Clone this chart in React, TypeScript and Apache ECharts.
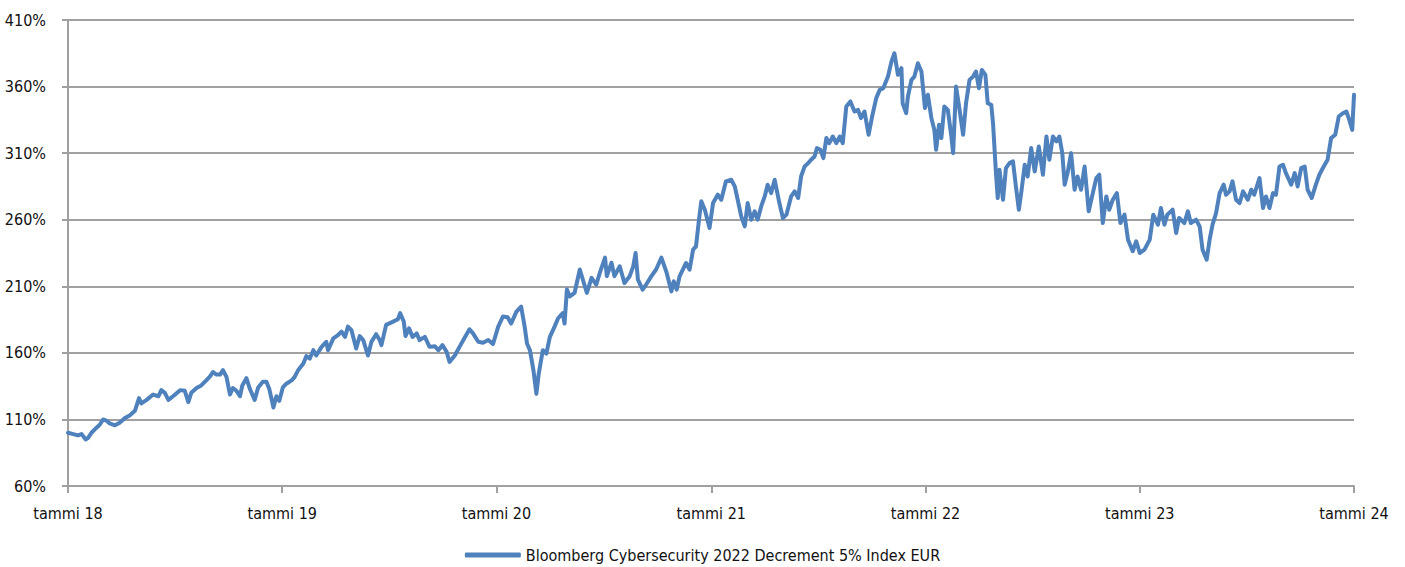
import React, { useEffect, useRef } from "react";
import * as echarts from "echarts";

const seriesName = "Bloomberg Cybersecurity 2022 Decrement 5% Index EUR";

const yearTicks = ["2018-01-01", "2019-01-01", "2020-01-01", "2021-01-01", "2022-01-01", "2023-01-01", "2024-01-01"];
const yearTickLabels = ["tammi 18", "tammi 19", "tammi 20", "tammi 21", "tammi 22", "tammi 23", "tammi 24"];

const yTicks = [60, 110, 160, 210, 260, 310, 360, 410];

const dates2018 = ["2018-01-01","2018-01-10","2018-01-18","2018-01-24","2018-01-31","2018-02-04","2018-02-10","2018-02-19","2018-02-24","2018-03-02","2018-03-08","2018-03-13","2018-03-22","2018-03-30","2018-04-08","2018-04-16","2018-04-25","2018-05-02","2018-05-06","2018-05-15","2018-05-26","2018-06-04","2018-06-09","2018-06-15","2018-06-21","2018-06-29","2018-07-11","2018-07-19","2018-07-25","2018-07-30","2018-08-08","2018-08-16","2018-08-25","2018-08-31","2018-09-05","2018-09-11","2018-09-17","2018-09-22","2018-09-28","2018-10-04","2018-10-09","2018-10-15","2018-10-21","2018-10-25","2018-11-01","2018-11-07","2018-11-15","2018-11-21","2018-11-29","2018-12-05","2018-12-10","2018-12-17","2018-12-22","2018-12-27"];
const values2018 = [100,99,98,99,95,96,100,104,106,110,109,107,105.6,107.5,111,113,116.5,126,122,124.7,128.7,127.4,132,130,124.7,127.4,132,131.5,123,130,133.6,135.5,139.6,142.3,145.6,143.7,143.7,147,142,128.7,133.6,131.5,127.4,135.5,141,132.8,124.7,134,138.3,138.3,132.8,119,127.4,124];

const dates2019 = ["2019-01-02","2019-01-08","2019-01-17","2019-01-22","2019-01-28","2019-02-06","2019-02-11","2019-02-17","2019-02-23","2019-02-28","2019-03-09","2019-03-17","2019-03-20","2019-03-29","2019-04-06","2019-04-12","2019-04-18","2019-04-23","2019-04-29","2019-05-07","2019-05-13","2019-05-19","2019-05-27","2019-06-02","2019-06-10","2019-06-16","2019-06-19","2019-06-27","2019-07-09","2019-07-17","2019-07-21","2019-07-27","2019-07-30","2019-08-05","2019-08-11","2019-08-18","2019-08-23","2019-09-01","2019-09-09","2019-09-18","2019-09-24","2019-10-01","2019-10-08","2019-10-13","2019-10-22","2019-10-30","2019-11-08","2019-11-16","2019-11-22","2019-12-01","2019-12-09","2019-12-18","2019-12-26"];
const values2019 = [134,136.8,139.3,141.8,146.9,152,157.5,155.7,162,158,164.5,168.3,162,170.9,173.4,176,172,179.7,177,163.3,172.6,169.6,158,168.3,174,169.6,165.8,181,183.5,185.2,189.8,183.5,172.6,178.4,172,174.6,169.6,172,164.5,165,162,165.8,160.8,153.2,158,164.5,171.6,177.7,174.6,168.3,167.6,169.6,166.6];

const dates2020 = ["2020-01-04","2020-01-12","2020-01-20","2020-01-26","2020-02-04","2020-02-12","2020-02-18","2020-02-22","2020-02-27","2020-03-04","2020-03-09","2020-03-13","2020-03-20","2020-03-26","2020-04-01","2020-04-09","2020-04-15","2020-04-23","2020-04-26","2020-04-30","2020-05-05","2020-05-13","2020-05-22","2020-05-28","2020-06-03","2020-06-11","2020-06-19","2020-06-25","2020-07-04","2020-07-07","2020-07-15","2020-07-20","2020-07-29","2020-08-06","2020-08-15","2020-08-21","2020-08-25","2020-08-29","2020-09-06","2020-09-12","2020-09-21","2020-09-29","2020-10-08","2020-10-17","2020-10-25","2020-10-29","2020-11-03","2020-11-08","2020-11-19","2020-11-25","2020-12-01","2020-12-06","2020-12-11","2020-12-15","2020-12-21","2020-12-29"];
const values2020 = [179.7,187.3,186.8,182,191,194.8,179.7,167,162,146.9,129.2,144.3,162,159.5,172,179.7,186,189.8,182,207.5,202.4,205,222.6,213.8,205,216.3,211.3,220,231.5,217.6,227.7,217.6,225,212.5,217.6,225,235,215,207.5,211.3,217.6,222.6,231.5,220,206.2,213.8,207.5,217.5,227.5,222.5,237.5,240,260,273.8,267.5,253.8];

const dates2021 = ["2021-01-04","2021-01-12","2021-01-18","2021-01-26","2021-02-04","2021-02-10","2021-02-15","2021-02-21","2021-02-27","2021-03-04","2021-03-10","2021-03-16","2021-03-21","2021-03-27","2021-04-02","2021-04-07","2021-04-13","2021-04-19","2021-04-27","2021-05-03","2021-05-09","2021-05-17","2021-05-23","2021-05-29","2021-06-03","2021-06-09","2021-06-15","2021-06-20","2021-06-26","2021-06-30","2021-07-06","2021-07-11","2021-07-16","2021-07-21","2021-07-27","2021-08-02","2021-08-08","2021-08-13","2021-08-19","2021-08-26","2021-09-02","2021-09-08","2021-09-13","2021-09-19","2021-09-26","2021-10-02","2021-10-09","2021-10-15","2021-10-21","2021-10-29","2021-11-04","2021-11-09","2021-11-15","2021-11-21","2021-11-23","2021-11-29","2021-12-02","2021-12-08","2021-12-13","2021-12-19","2021-12-25","2021-12-31"];
const values2021 = [272.5,278.8,275,288.8,290,285,275,262.5,255,272.5,260,266.3,260,270,277.5,286.3,280,290,272.5,261.3,263.8,277.5,281.3,276.3,292.5,300,302.5,305,307.5,313.8,312.5,306.3,321.3,317.5,322.5,317.5,322.5,317.5,345,348.8,341.3,342.5,336.3,341.3,323.8,337.5,351.3,357.5,358.8,367.5,378.8,385,368.8,373.8,347.5,340,352.5,365,367.5,377.5,371.3,343.8];

const dates2022 = ["2022-01-05","2022-01-11","2022-01-16","2022-01-19","2022-01-24","2022-01-28","2022-02-02","2022-02-08","2022-02-14","2022-02-17","2022-02-22","2022-02-28","2022-03-06","2022-03-11","2022-03-17","2022-03-23","2022-03-28","2022-04-02","2022-04-07","2022-04-13","2022-04-17","2022-04-23","2022-04-26","2022-05-01","2022-05-04","2022-05-07","2022-05-13","2022-05-18","2022-05-24","2022-05-30","2022-06-04","2022-06-09","2022-06-13","2022-06-19","2022-06-24","2022-06-30","2022-07-06","2022-07-13","2022-07-20","2022-07-26","2022-07-31","2022-08-06","2022-08-12","2022-08-17","2022-08-22","2022-08-26","2022-08-31","2022-09-06","2022-09-12","2022-09-17","2022-09-23","2022-09-29","2022-10-06","2022-10-13","2022-10-19","2022-10-24","2022-10-30","2022-11-05","2022-11-10","2022-11-16","2022-11-23","2022-11-29","2022-12-06","2022-12-12","2022-12-20","2022-12-26"];
const values2022 = [353.8,336.3,327.5,312.5,331.3,321.3,345,342.5,322.5,310,360,342.5,323.8,347.5,365,367.5,371.3,358.8,372.5,368.8,347.5,346.3,332.5,295,276.3,297.5,275,298.8,302.5,303.8,285,267.5,280,301.3,292.5,313.8,296.3,315,293.8,322.5,305,322.5,318.8,322.5,310,286.3,295,310,282.5,292.5,282.5,300,266.3,280,291.3,293.8,257.5,277.5,267.5,275,280,257.5,263.8,245,236.3,243.8];

const dates2023 = ["2023-01-01","2023-01-09","2023-01-18","2023-01-24","2023-02-01","2023-02-06","2023-02-12","2023-02-17","2023-02-26","2023-03-04","2023-03-09","2023-03-18","2023-03-24","2023-03-29","2023-04-07","2023-04-13","2023-04-18","2023-04-25","2023-04-30","2023-05-05","2023-05-11","2023-05-17","2023-05-24","2023-05-28","2023-06-03","2023-06-08","2023-06-14","2023-06-20","2023-06-26","2023-07-04","2023-07-10","2023-07-15","2023-07-24","2023-07-30","2023-08-04","2023-08-10","2023-08-16","2023-08-21","2023-08-27","2023-09-02","2023-09-07","2023-09-16","2023-09-22","2023-09-27","2023-10-03","2023-10-09","2023-10-14","2023-10-21","2023-10-28","2023-11-03","2023-11-09","2023-11-17","2023-11-23","2023-11-30","2023-12-06","2023-12-13","2023-12-19","2023-12-24","2023-12-29","2024-01-01"];
const values2023 = [235,237.5,245,263.8,256.3,268.8,256.3,263.8,267.5,250,261.3,257.5,266.3,257.5,260,255,237.5,230,245,256.3,265,280,286.3,278.8,281.3,288.8,275,272.5,281.3,275,282.5,278.8,291.3,268.8,277.5,268.8,280,278.8,300,301.3,295,286.3,295,285,298.8,300,282.5,276.3,286.3,293.8,298.8,305,321.3,323.8,337.5,340,341.3,335,327.5,353.8];

const FONT = "'Liberation Sans Narrow', 'DejaVu Sans Condensed', 'Roboto', sans-serif";
const GRAY = "#a0a0a0";
const FS = 16;

const toTime = (d: string) => Date.UTC(+d.slice(0, 4), +d.slice(5, 7) - 1, +d.slice(8, 10));

export default function App() {
  const ref = useRef<HTMLDivElement>(null);
  useEffect(() => {
    if (!ref.current) return;
    const chart = echarts.init(ref.current, undefined, { renderer: "svg" });
    const dates = [...dates2018, ...dates2019, ...dates2020, ...dates2021, ...dates2022, ...dates2023];
    const values = [...values2018, ...values2019, ...values2020, ...values2021, ...values2022, ...values2023];
    const data = dates.map((d, i) => [toTime(d), values[i]]);
    const tickTimes = yearTicks.map(toTime);
    chart.setOption({
      animation: false,
      grid: { left: 68, right: 51, top: 20, bottom: 81, containLabel: false },
      legend: {
        show: true,
        top: 542,
        left: "center",
        icon: "roundRect",
        itemWidth: 56,
        itemHeight: 5,
        itemGap: 2,
        textStyle: { fontFamily: FONT, fontSize: FS, color: "#111" },
        data: [seriesName],
      },
      xAxis: {
        type: "value",
        min: tickTimes[0],
        max: tickTimes[tickTimes.length - 1],
        axisLine: { show: true, lineStyle: { color: GRAY, width: 2 } },
        axisTick: { show: true, length: 7, lineStyle: { color: GRAY, width: 2 }, customValues: tickTimes },
        axisLabel: {
          customValues: tickTimes,
          formatter: (v: number) => {
            const idx = tickTimes.findIndex((t) => Math.abs(t - v) < 86400000 * 2);
            return idx >= 0 ? yearTickLabels[idx] : "";
          },
          fontFamily: FONT,
          fontSize: FS,
          color: "#111",
          margin: 19,
          showMinLabel: true,
          showMaxLabel: true,
          hideOverlap: false,
        },
        splitLine: { show: false },
      },
      yAxis: {
        type: "value",
        min: yTicks[0],
        max: yTicks[yTicks.length - 1],
        interval: 50,
        axisLine: { show: true, lineStyle: { color: GRAY, width: 2 } },
        axisTick: { show: true, length: 6, lineStyle: { color: GRAY, width: 2 } },
        axisLabel: {
          formatter: (v: number) => v + "%",
          fontFamily: FONT,
          fontSize: FS,
          color: "#111",
          margin: 22,
        },
        splitLine: { show: true, lineStyle: { color: GRAY, width: 2 } },
      },
      series: [
        {
          name: seriesName,
          type: "line",
          data,
          showSymbol: false,
          symbol: "none",
          lineStyle: { color: "#4f81bd", width: 4, cap: "round", join: "round" },
          itemStyle: { color: "#4f81bd" },
        },
      ],
    });
    return () => chart.dispose();
  }, []);
  return <div ref={ref} style={{ position: "absolute", left: 0, top: 0, width: 1405, height: 567 }} />;
}
